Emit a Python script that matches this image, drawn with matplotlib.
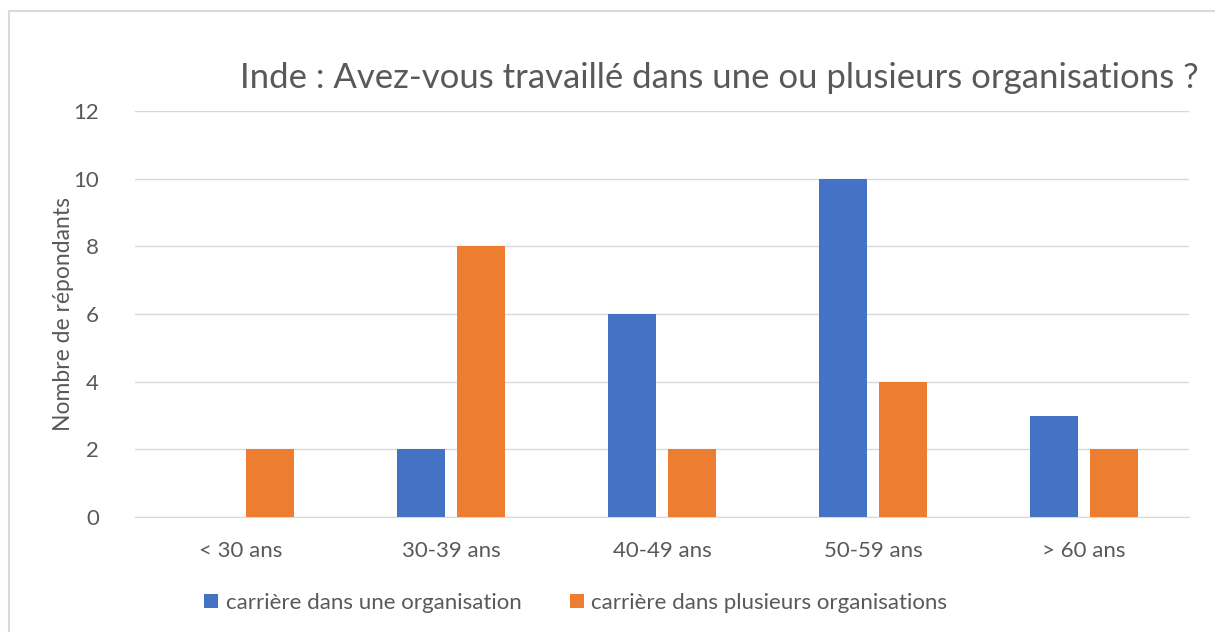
import matplotlib.pyplot as plt
import numpy as np
from matplotlib.patches import Rectangle

plt.rcParams['font.family'] = ['Lato', 'DejaVu Sans']

categories = ['< 30 ans', '30-39 ans', '40-49 ans', '50-59 ans', '> 60 ans']
une_org = [0, 2, 6, 10, 3]
plusieurs_org = [2, 8, 2, 4, 2]
series_names = ['carrière dans une organisation', 'carrière dans plusieurs organisations']

blue = '#4472C4'
orange = '#ED7D31'
grey_text = '#595959'

fig = plt.figure(figsize=(12.15, 6.32), dpi=100)
# cadre du graphique (coupé à droite et en bas comme dans l'original)
fig.patches.append(Rectangle((0.0074, -0.02), 1.05, 1.0026, transform=fig.transFigure,
                             fill=False, edgecolor='#D9D9D9', linewidth=1.5))
ax = fig.add_axes([0.111, 0.182, 0.868, 0.642])

x = np.arange(len(categories))
w = 0.227
off = 0.142
ax.bar(x - off, une_org, w, color=blue, label=series_names[0], zorder=3)
ax.bar(x + off, plusieurs_org, w, color=orange, label=series_names[1], zorder=3)

ax.set_xlim(-0.5, len(categories) - 0.5)
ax.set_ylim(0, 12)
ax.set_yticks(range(0, 13, 2))
ax.set_xticks(x)
ax.set_xticklabels(categories)
ax.grid(axis='y', color='#D9D9D9', linewidth=1, zorder=0)
for s in ['top', 'right', 'left']:
    ax.spines[s].set_visible(False)
ax.spines['bottom'].set_color('#D9D9D9')
ax.tick_params(axis='both', length=0, labelsize=16, colors=grey_text)
ax.tick_params(axis='x', pad=17)
ax.tick_params(axis='y', pad=26)

ax.set_ylabel('Nombre de répondants', fontsize=16.5, color=grey_text)
ax.yaxis.set_label_coords(-0.058, 0.5)
fig.text(0.592, 0.877, 'Inde : Avez-vous travaillé dans une ou plusieurs organisations ?',
         ha='center', va='center', fontsize=25, color=grey_text)

fig.legend(loc='center', bbox_to_anchor=(0.474, 0.046), ncol=2, frameon=False,
           fontsize=16, labelcolor=grey_text, handlelength=0.6, handleheight=0.6,
           columnspacing=2.2, handletextpad=0.35)

fig.savefig('out.png', dpi=100)
